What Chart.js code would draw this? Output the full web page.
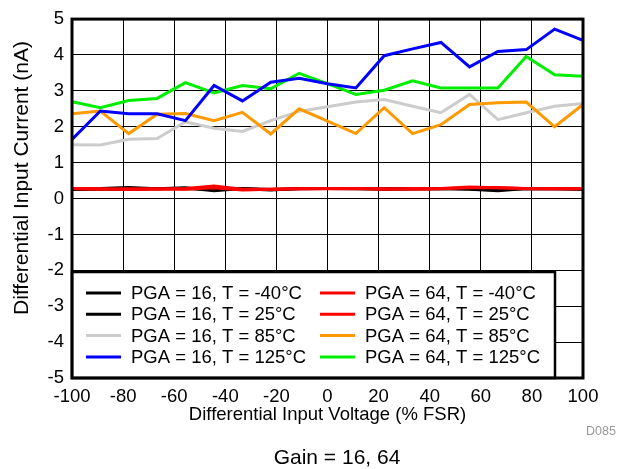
<!DOCTYPE html>
<html>
<head>
<meta charset="utf-8">
<script src="https://cdn.jsdelivr.net/npm/chart.js@4/dist/chart.umd.min.js"></script>
<style>
  body { margin: 0; background: #fff; }
  #wrap { width: 621px; height: 469px; }
</style>
</head>
<body>
<div id="wrap"><canvas id="chart" width="621" height="469"></canvas></div>
<script>
// x positions (% FSR), 19 equally spaced points
const voltage = [-100, -88.9, -77.8, -66.7, -55.6, -44.4, -33.3, -22.2, -11.1, 0,
                 11.1, 22.2, 33.3, 44.4, 55.6, 66.7, 77.8, 88.9, 100];

// differential input current (nA)
const pga16_m40 = [0.27, 0.28, 0.31, 0.27, 0.28, 0.25, 0.27, 0.24, 0.28, 0.28, 0.27, 0.27, 0.28, 0.27, 0.27, 0.26, 0.27, 0.28, 0.26];
const pga16_25  = [0.25, 0.26, 0.26, 0.27, 0.30, 0.22, 0.28, 0.25, 0.27, 0.28, 0.28, 0.26, 0.27, 0.28, 0.26, 0.22, 0.28, 0.27, 0.26];
const pga16_85  = [1.50, 1.49, 1.65, 1.67, 2.14, 1.96, 1.87, 2.17, 2.43, 2.56, 2.69, 2.76, 2.57, 2.39, 2.90, 2.20, 2.39, 2.57, 2.65];
const pga16_125 = [1.65, 2.44, 2.36, 2.36, 2.17, 3.15, 2.72, 3.24, 3.35, 3.20, 3.08, 3.98, 4.17, 4.35, 3.67, 4.10, 4.15, 4.72, 4.41];
const pga64_m40 = [0.28, 0.27, 0.25, 0.26, 0.28, 0.35, 0.26, 0.26, 0.27, 0.28, 0.28, 0.27, 0.26, 0.28, 0.32, 0.30, 0.28, 0.27, 0.27];
const pga64_25  = [0.27, 0.26, 0.27, 0.27, 0.26, 0.30, 0.24, 0.26, 0.27, 0.27, 0.28, 0.26, 0.28, 0.27, 0.30, 0.31, 0.27, 0.27, 0.27];
const pga64_85  = [2.36, 2.44, 1.81, 2.35, 2.37, 2.17, 2.40, 1.80, 2.50, 2.16, 1.81, 2.53, 1.81, 2.06, 2.62, 2.67, 2.69, 2.00, 2.62];
const pga64_125 = [2.70, 2.53, 2.73, 2.79, 3.23, 2.94, 3.15, 3.06, 3.49, 3.20, 2.90, 3.02, 3.28, 3.08, 3.08, 3.08, 3.96, 3.45, 3.41];

const labels = [
    "PGA = 16, T = -40°C", "PGA = 16, T = 25°C", "PGA = 16, T = 85°C", "PGA = 16, T = 125°C",
    "PGA = 64, T = -40°C", "PGA = 64, T = 25°C", "PGA = 64, T = 85°C", "PGA = 64, T = 125°C"
];
const seriesData = [pga16_m40, pga16_25, pga16_85, pga16_125, pga64_m40, pga64_25, pga64_85, pga64_125];
const colors = ["#000000", "#000000", "#cccccc", "#0000ff", "#ff0000", "#ff0000", "#ff9900", "#00ee00"];
const drawOrder = [8, 7, 6, 3, 2, 1, 5, 4]; // lower = drawn on top

const xTitle = "Differential Input Voltage (% FSR)";
const yTitle = "Differential Input Current (nA)";
const caption = "Gain = 16, 64";
const figId = "D085";

const FONT = "'Liberation Sans', Arial, Helvetica, sans-serif";

const datasets = seriesData.map((vals, i) => ({
    label: labels[i],
    data: vals.map((v, j) => ({ x: voltage[j], y: v })),
    borderColor: colors[i],
    backgroundColor: colors[i],
    borderWidth: 3,
    pointRadius: 0,
    tension: 0,
    order: drawOrder[i]
}));

// frame, legend box and titles
const decorPlugin = {
    id: "decor",
    afterDatasetsDraw(chart) {
        const { ctx, chartArea: a } = chart;
        ctx.save();

        // legend box sitting in the lower-left of the plot
        const bx = a.left, by = a.bottom - 106, bw = 483, bh = 106;
        ctx.fillStyle = "#fff";
        ctx.fillRect(bx, by, bw, bh);
        ctx.strokeStyle = "#000";
        ctx.lineWidth = 2.5;
        ctx.strokeRect(bx, by, bw, bh);

        ctx.font = "18.5px " + FONT;
        ctx.textBaseline = "middle";
        ctx.textAlign = "left";
        chart.data.datasets.forEach((ds, i) => {
            const col = Math.floor(i / 4), row = i % 4;
            const lx = bx + 14 + col * 234;
            const ly = by + 21 + row * 21.3;
            ctx.strokeStyle = ds.borderColor;
            ctx.lineWidth = 3;
            ctx.beginPath();
            ctx.moveTo(lx, ly);
            ctx.lineTo(lx + 35, ly);
            ctx.stroke();
            ctx.fillStyle = "#000";
            ctx.fillText(ds.label, lx + 45, ly + 1);
        });

        // plot frame
        ctx.strokeStyle = "#000";
        ctx.lineWidth = 3;
        ctx.strokeRect(a.left, a.top, a.right - a.left, a.bottom - a.top);
        ctx.restore();
    },
    afterDraw(chart) {
        const { ctx, chartArea: a } = chart;
        ctx.save();
        ctx.fillStyle = "#000";
        ctx.textAlign = "center";
        ctx.textBaseline = "middle";
        ctx.font = "18.5px " + FONT;
        ctx.fillText(xTitle, (a.left + a.right) / 2, 415);

        ctx.save();
        ctx.translate(22, 178);
        ctx.rotate(-Math.PI / 2);
        ctx.font = "21px " + FONT;
        ctx.fillText(yTitle, 0, 0);
        ctx.restore();

        ctx.font = "21px " + FONT;
        ctx.fillText(caption, 337, 458);

        ctx.font = "12.5px " + FONT;
        ctx.fillStyle = "#999";
        ctx.fillText(figId, 601, 432);
        ctx.restore();
    }
};

new Chart(document.getElementById("chart"), {
    type: "line",
    data: { datasets: datasets },
    options: {
        responsive: false,
        animation: false,
        layout: { padding: { top: 17, right: 38, left: 0, bottom: 0 } },
        scales: {
            x: {
                type: "linear",
                min: -100,
                max: 100,
                afterFit: s => { s.height = 91; },
                ticks: {
                    stepSize: 20,
                    color: "#000",
                    padding: 8,
                    maxRotation: 0,
                    autoSkip: false,
                    font: { family: FONT, size: 18.5 }
                },
                grid: { color: "#000", lineWidth: 1, drawTicks: false },
                border: { display: false }
            },
            y: {
                min: -5,
                max: 5,
                afterFit: s => { s.width = 72; },
                ticks: {
                    stepSize: 1,
                    color: "#000",
                    padding: 8,
                    font: { family: FONT, size: 18.5 }
                },
                grid: { color: "#000", lineWidth: 1, drawTicks: false },
                border: { display: false }
            }
        },
        plugins: {
            legend: { display: false },
            tooltip: { enabled: false }
        }
    },
    plugins: [decorPlugin]
});
</script>
</body>
</html>
